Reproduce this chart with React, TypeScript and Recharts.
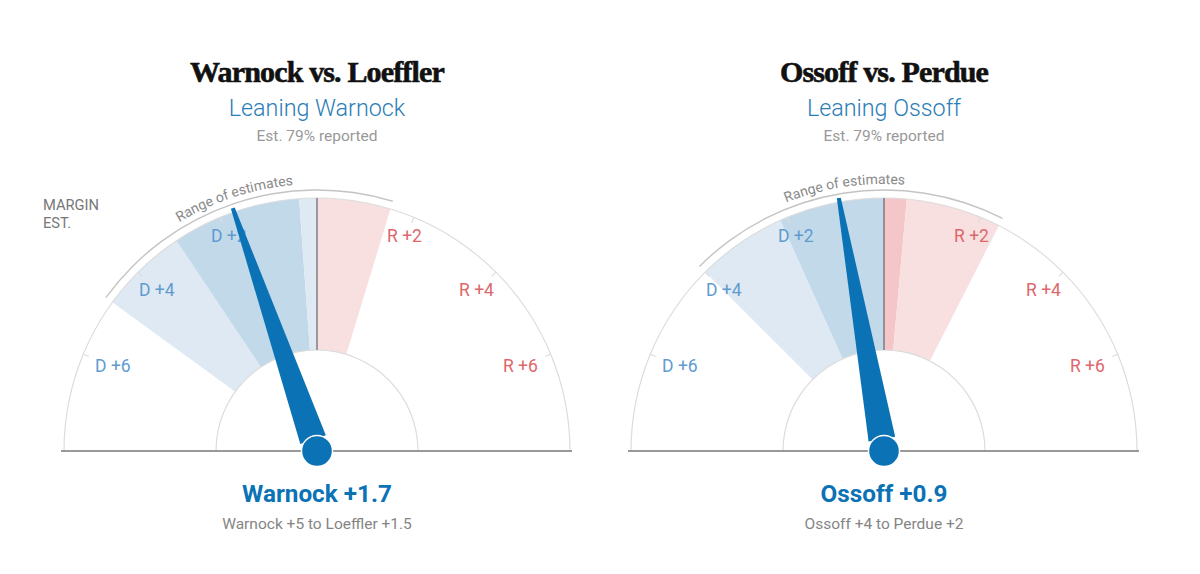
import React from "react";
import { PieChart, Pie, Cell } from "recharts";

const raceTitles = ["Warnock vs. Loeffler", "Ossoff vs. Perdue"];
const leanings = ["Leaning Warnock", "Leaning Ossoff"];
const reported = ["Est. 79% reported", "Est. 79% reported"];
const headlines = ["Warnock +1.7", "Ossoff +0.9"];
const rangeTexts = ["Warnock +5 to Loeffler +1.5", "Ossoff +4 to Perdue +2"];
// signed margins: negative = D, positive = R
const needleValues = [-1.7, -0.9];
const rangeLow = [-4.8, -4.0];
const rangeHigh = [1.5, 2.4];
const darkLow = [-3.0, -2.15];
const darkHigh = [-0.36, 0.46];
const tickValues = [-6, -4, -2, 0, 2, 4, 6];
const tickLabels = ["D +6", "D +4", "D +2", "", "R +2", "R +4", "R +6"];

const DOMAIN = 8;
const CENTERS = [317, 884];
const CY = 451;
const R_OUT = 253;
const R_IN = 101;
const FONT = "Roboto, 'Liberation Sans', sans-serif";
const BLUE = "#0b72b5";
const LIGHT_BLUE = "#dee9f3";
const DARK_BLUE = "#c2d9ea";
const LIGHT_RED = "#f8dfe0";
const DARK_RED = "#f4c6c8";
const LABEL_R = [222, 228, 233, 0, 233, 228, 222];

const toSpans = (breaks: number[]) =>
  breaks.slice(1).map((b, i) => ({ span: b - breaks[i] }));

const polar = (cx: number, cy: number, r: number, deg: number) => ({
  x: cx + r * Math.cos((-deg * Math.PI) / 180),
  y: cy + r * Math.sin((-deg * Math.PI) / 180),
});

const commonPie = {
  dataKey: "span",
  startAngle: 180,
  endAngle: 0,
  stroke: "none",
  isAnimationActive: false,
  labelLine: false,
  cy: CY,
};

function bandFills(i: number) {
  const lo = rangeLow[i], hi = rangeHigh[i], dl = darkLow[i], dh = darkHigh[i];
  const breaks = [-DOMAIN, lo, dl];
  const fills = ["none", LIGHT_BLUE, DARK_BLUE];
  if (dh < 0) {
    breaks.push(dh, 0, hi, DOMAIN);
    fills.push(LIGHT_BLUE, LIGHT_RED, "none");
  } else {
    breaks.push(0, dh, hi, DOMAIN);
    fills.push(DARK_RED, LIGHT_RED, "none");
  }
  return { data: toSpans(breaks), fills };
}

const tickBreaks = [-DOMAIN, -7, -5, -3, -1, 1, 3, 5, 7, DOMAIN];

const renderTick = (p: any) => {
  const k = p.index - 1;
  if (k < 0 || k >= tickValues.length) return <g key={p.index} />;
  const a = p.midAngle;
  if (tickValues[k] === 0) {
    const s = polar(p.cx, p.cy, R_IN, a), e = polar(p.cx, p.cy, R_OUT, a);
    return <line key={p.index} x1={s.x} y1={s.y} x2={e.x} y2={e.y} stroke="#666" strokeWidth={1.2} />;
  }
  const s = polar(p.cx, p.cy, R_OUT - 6, a), e = polar(p.cx, p.cy, R_OUT, a);
  const t = polar(p.cx, p.cy, LABEL_R[k], a);
  const isD = tickValues[k] < 0;
  return (
    <g key={p.index}>
      <line x1={s.x} y1={s.y} x2={e.x} y2={e.y} stroke="#dcdcdc" strokeWidth={1.2} />
      <text x={t.x + (isD ? 1 : -1.7)} y={t.y} textAnchor="middle" dominantBaseline="central" fontFamily={FONT} fontSize={17.5}
        fill={isD ? "#5f9bcf" : "#dd676c"}>{tickLabels[k]}</text>
    </g>
  );
};

const renderRangeLabel = (id: string) => (p: any) => {
  if (p.index !== 1) return <g key={p.index} />;
  const r = 267;
  const a = polar(p.cx, p.cy, r, p.midAngle + 40), b = polar(p.cx, p.cy, r, p.midAngle - 40);
  return (
    <g key={p.index}>
      <path id={id} d={`M${a.x},${a.y} A${r},${r} 0 0 1 ${b.x},${b.y}`} fill="none" />
      <text fontFamily={FONT} fontSize={14} fill="#8a8a8a" textAnchor="middle">
        <textPath href={`#${id}`} startOffset="50.6%">Range of estimates</textPath>
      </text>
    </g>
  );
};

const renderNeedle = (p: any) => {
  if (p.index !== 1) return <g key={p.index} />;
  const a = p.midAngle;
  const { cx, cy } = p;
  const tip = polar(cx, cy, 257, a), base = polar(cx, cy, 12, a);
  const nx = Math.cos(((a + 90) * Math.PI) / 180), ny = -Math.sin(((a + 90) * Math.PI) / 180);
  const pts = [
    [tip.x + nx * 2, tip.y + ny * 2],
    [tip.x - nx * 2, tip.y - ny * 2],
    [base.x - nx * 13.5, base.y - ny * 13.5],
    [base.x + nx * 13.5, base.y + ny * 13.5],
  ].map((q) => q.join(",")).join(" ");
  return (
    <g key={p.index}>
      <line x1={cx - 256} y1={cy} x2={cx + 255} y2={cy} stroke="#777" strokeWidth={1.6} />
      <polygon points={pts} fill={BLUE} />
      <circle cx={cx} cy={cy} r={15.5} fill={BLUE} stroke="#fff" strokeWidth={1.4} />
    </g>
  );
};

function gauge(i: number) {
  const cx = CENTERS[i];
  const bands = bandFills(i);
  const v = needleValues[i];
  return [
    <Pie key={`b${i}`} {...commonPie} cx={cx} data={bands.data} innerRadius={R_IN} outerRadius={R_OUT}>
      {bands.fills.map((f, k) => <Cell key={k} fill={f} />)}
    </Pie>,
    <Pie key={`o${i}`} {...commonPie} cx={cx} data={toSpans([-DOMAIN, DOMAIN])} innerRadius={R_OUT - 0.6} outerRadius={R_OUT + 0.6} fill="#dcdcdc" />,
    <Pie key={`n${i}`} {...commonPie} cx={cx} data={toSpans([-DOMAIN, DOMAIN])} innerRadius={R_IN - 0.6} outerRadius={R_IN + 0.6} fill="#dcdcdc" />,
    <Pie key={`t${i}`} {...commonPie} cx={cx} data={toSpans(tickBreaks)} innerRadius={R_OUT} outerRadius={R_OUT} fill="none" label={renderTick} />,
    <Pie key={`r${i}`} {...commonPie} cx={cx} data={toSpans([-DOMAIN, rangeLow[i], rangeHigh[i], DOMAIN])} innerRadius={260.3} outerRadius={261.7} label={renderRangeLabel(`range-path-${i}`)}>
      <Cell fill="none" />
      <Cell fill="#c4c4c4" />
      <Cell fill="none" />
    </Pie>,
    <Pie key={`d${i}`} {...commonPie} cx={cx} data={toSpans([-DOMAIN, v - 0.5, v + 0.5, DOMAIN])} innerRadius={R_OUT} outerRadius={R_OUT} fill="none" label={renderNeedle} />,
  ];
}

const heading = (i: number) => {
  const x = CENTERS[i];
  return (
    <g key={i} textAnchor="middle">
      <text x={x} y={82} fontFamily="'Liberation Serif', serif" fontWeight={700} fontSize={30} letterSpacing={-0.85} fill="#111" stroke="#111" strokeWidth={0.6}>{raceTitles[i]}</text>
      <text x={x} y={116} fontFamily={FONT} fontWeight={300} fontSize={23.3} fill="#2a7db6">{leanings[i]}</text>
      <text x={x} y={141} fontFamily={FONT} fontSize={15.5} fill="#999">{reported[i]}</text>
      <text x={x} y={502} fontFamily={FONT} fontWeight={700} fontSize={24.3} fill={BLUE}>{headlines[i]}</text>
      <text x={x} y={529} fontFamily={FONT} fontSize={15.5} fill="#858585">{rangeTexts[i]}</text>
    </g>
  );
};

export default function App() {
  return (
    <div style={{ position: "absolute", left: 0, top: 0, width: 1200, height: 574, background: "#fff" }}>
      <PieChart width={1200} height={574} margin={{ top: 0, right: 0, bottom: 0, left: 0 }}>
        {gauge(0)}
        {gauge(1)}
        {heading(0)}
        {heading(1)}
        <text x={43} y={209.5} fontFamily={FONT} fontSize={14.7} fill="#777">MARGIN</text>
        <text x={43} y={228} fontFamily={FONT} fontSize={14.7} fill="#777">EST.</text>
      </PieChart>
    </div>
  );
}
